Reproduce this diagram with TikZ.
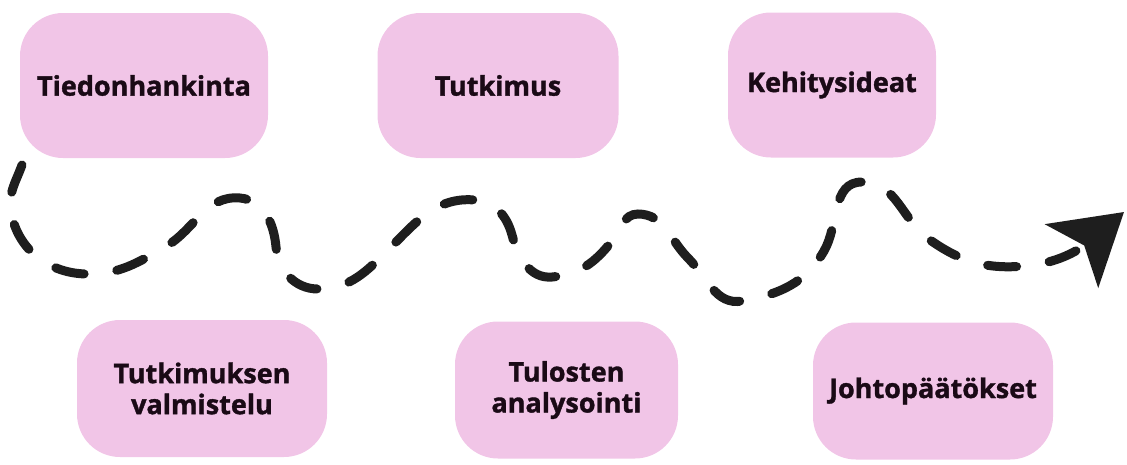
\documentclass[tikz,border=0pt]{standalone}
\usepackage{fontspec}
\setmainfont{Open Sans}[BoldFeatures={FakeBold=1.3}]
\usetikzlibrary{arrows.meta}

\definecolor{boxpink}{RGB}{241,197,231}
\definecolor{boxtext}{RGB}{26,10,22}
\definecolor{wavegray}{RGB}{30,30,30}

\tikzset{
	stage/.style={fill=boxpink, rounded corners=43pt, minimum height=145pt, inner sep=0pt,
		align=center, text=boxtext, font=\bfseries\fontsize{27}{31}\selectfont},
	lowstage/.style={stage, minimum height=137pt},
	wavy/.style={line width=9pt, dash pattern=on 29pt off 33pt, line cap=round, wavegray,
		-{Stealth[length=68pt,width=82pt,inset=16pt]}}
}

\begin{document}
\begin{tikzpicture}[x=1pt,y=1pt]
\useasboundingbox (0,0) rectangle (1127,-464);
% top row
\node[stage, minimum width=248pt] (tieto) at (144,-85.5) {Tiedonhankinta};
\node[stage, minimum width=241pt] (tutk) at (498,-85.5) {Tutkimus};
\node[stage, minimum width=208pt] (kehit) at (832,-85) {Kehitysideat};
% bottom row
\node[lowstage, minimum width=250pt] (valm) at (202,-388.5) {Tutkimuksen\\valmistelu};
\node[lowstage, minimum width=223pt] (anal) at (566.5,-390) {Tulosten\\analysointi};
\node[lowstage, minimum width=240pt] (johto) at (933,-391) {Johtopäätökset};
% the wave
\coordinate (w0) at (22,-165);
\coordinate (w1) at (11,-212);
\coordinate (w2) at (88,-274);
\coordinate (w3) at (165,-247);
\coordinate (w4) at (240,-198);
\coordinate (w5) at (276,-247);
\coordinate (w6) at (318,-289);
\coordinate (w7) at (390,-248);
\coordinate (w8) at (475,-200);
\coordinate (w9) at (512,-235);
\coordinate (w10) at (552,-277);
\coordinate (w11) at (612,-241);
\coordinate (w12) at (638,-214);
\coordinate (w13) at (688,-258);
\coordinate (w14) at (742,-301);
\coordinate (w15) at (824,-251);
\coordinate (w16) at (862,-182);
\coordinate (w17) at (930,-240);
\coordinate (w18) at (1025,-266);
\coordinate (tip) at (1124,-212);
\draw[wavy] (w0) to[out=250,in=100] (w1) to[out=280,in=180] (w2)
	to[out=0,in=210] (w3) to[out=30,in=175] (w4)
	to[out=-5,in=95] (w5) to[out=-85,in=180] (w6)
	to[out=0,in=225] (w7) to[out=45,in=175] (w8)
	to[out=-5,in=105] (w9) to[out=-75,in=185] (w10)
	to[out=5,in=232] (w11) to[out=52,in=180] (w12)
	to[out=0,in=135] (w13) to[out=-45,in=190] (w14)
	to[out=10,in=240] (w15) to[out=60,in=180] (w16)
	to[out=0,in=145] (w17) to[out=-35,in=185] (w18)
	to[out=5,in=220] (tip);
\end{tikzpicture}
\end{document}
